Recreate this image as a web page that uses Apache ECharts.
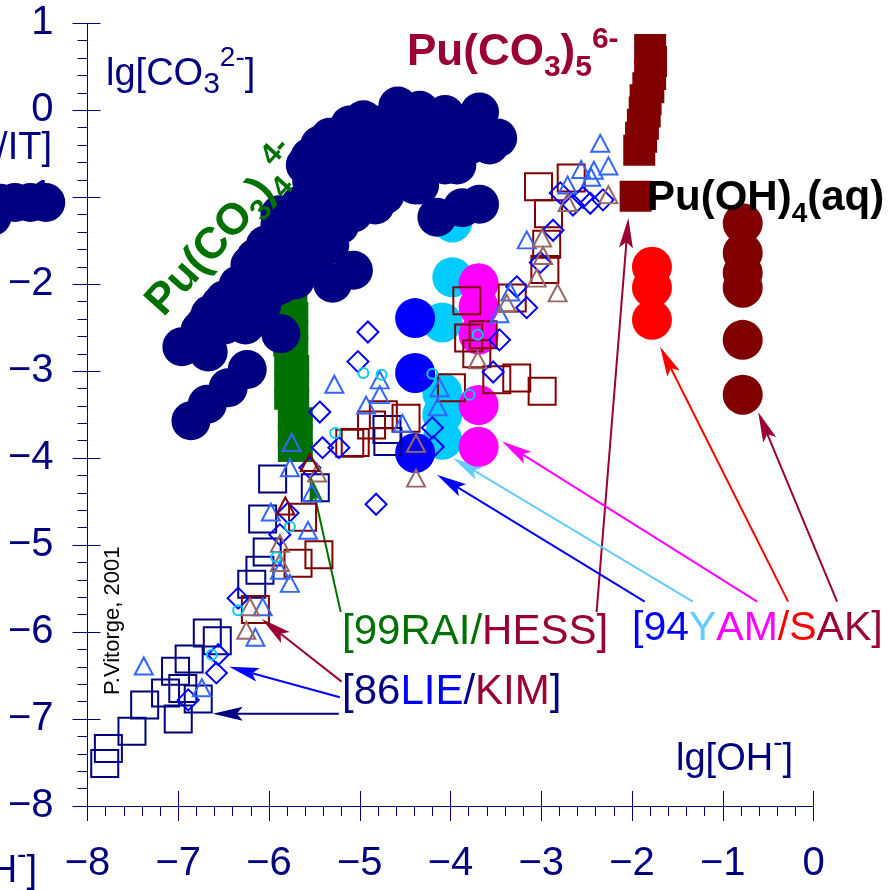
<!DOCTYPE html>
<html>
<head>
<meta charset="utf-8">
<script src="https://cdn.jsdelivr.net/npm/echarts@6/dist/echarts.min.js"></script>
<style>html,body{margin:0;padding:0;background:#fff}#main{width:890px;height:890px}</style>
</head>
<body>
<div id="main"></div>
<script>
// points are [lg[OH-], lg[CO3 2-]]
var co3Circles = [
  [-5.55,-0.54],[-5.33,-0.31],[-4.96,-0.11],[-4.58,0.05],[-4.34,0.00],[-4.06,-0.05],[-3.68,-0.02],[-3.48,-0.32],
  [-5.53,-0.81],[-5.33,-0.63],[-5.00,-0.46],[-4.61,-0.34],[-4.23,-0.34],[-3.90,-0.34],[-3.62,-0.28],
  [-5.88,-1.20],[-5.66,-1.09],[-5.33,-0.97],[-5.00,-0.86],[-4.61,-0.74],[-4.23,-0.63],[-3.93,-0.63],
  [-6.15,-1.70],[-5.93,-1.55],[-5.66,-1.43],[-5.38,-1.32],[-5.07,-1.18],[-4.72,-0.97],[-4.34,-0.86],
  [-6.32,-2.01],[-6.10,-1.89],[-5.82,-1.78],[-5.55,-1.66],[-5.33,-1.55],
  [-6.49,-2.18],[-6.26,-2.18],[-5.99,-2.07],[-5.71,-1.95],
  [-6.65,-2.35],[-6.43,-2.41],[-6.15,-2.30],
  [-6.76,-2.53],[-6.96,-2.72],[-6.67,-2.78],[-6.46,-2.41],
  [-5.07,-1.84],[-5.30,-1.99],
  [-6.24,-2.98],[-6.45,-3.19],[-6.68,-3.38],[-6.86,-3.57],
  [-5.87,-2.57],
  [-4.15,-1.23],[-3.87,-1.12],[-3.68,-1.08],
  [-8.46,-1.06],[-8.63,-1.06],[-8.80,-1.06],[-8.96,-1.07],[-9.05,-1.22],
  [-5.11,-0.17],[-4.83,-0.17],[-4.56,-0.17],[-4.28,-0.17],[-4.01,-0.17],[-3.73,-0.17],
  [-5.44,-0.40],[-5.16,-0.40],[-4.89,-0.40],[-4.61,-0.40],[-4.34,-0.40],[-4.06,-0.40],[-3.79,-0.40],[-3.57,-0.40],
  [-5.60,-0.63],[-5.38,-0.63],[-5.11,-0.63],[-4.83,-0.63],[-4.56,-0.63],[-4.28,-0.63],[-4.06,-0.63],
  [-5.49,-0.86],[-5.22,-0.86],[-4.94,-0.86],[-4.67,-0.86],[-4.39,-0.86],
  [-5.60,-1.09],[-5.33,-1.09],[-5.05,-1.09],[-4.83,-1.09],
  [-5.88,-1.32],[-5.69,-1.32],[-5.44,-1.32],[-5.22,-1.32],
  [-6.04,-1.55],[-5.82,-1.55],[-5.60,-1.55],[-5.38,-1.55],
  [-6.21,-1.78],[-5.99,-1.78],[-5.77,-1.78],[-5.55,-1.78],
  [-6.34,-2.01],[-6.12,-2.01],[-5.88,-2.01],
  [-6.54,-2.24],[-6.32,-2.24],[-6.08,-2.24],
  [-6.71,-2.47],[-6.49,-2.47],[-6.26,-2.47]
];
var pu4Rects = [[-5.77,-1.11],[-5.77,-1.32],[-5.77,-1.51],
  [-5.77,-1.72],[-5.77,-1.92],[-5.77,-2.12],[-5.76,-2.32],[-5.76,-2.53],[-5.76,-2.72],[-5.75,-2.93],
  [-5.75,-3.13],[-5.75,-3.33],[-5.71,-3.53],[-5.71,-3.73],[-5.71,-3.93]];
var pu5Rects = [[-1.80,0.70],[-1.79,0.56],[-1.80,0.41],[-1.82,0.26],[-1.85,0.12],[-1.86,-0.02],
  [-1.88,-0.16],[-1.90,-0.31],[-1.92,-0.46],[-1.96,-0.99]];
var yamBlue = [[-4.39,-2.39],[-4.39,-3.02],[-4.39,-3.94]];
var yamCyan = [[-3.98,-1.29],[-3.98,-1.92],[-4.09,-2.44],[-4.09,-3.25],[-4.09,-3.50],[-4.09,-3.79]];
var yamMagenta = [[-3.69,-1.99],[-3.69,-2.26],[-3.69,-2.58],[-3.69,-3.39],[-3.69,-3.87]];
var sakRed = [[-1.78,-1.80],[-1.78,-2.04],[-1.78,-2.41]];
var sakDark = [[-0.78,-1.30],[-0.78,-1.64],[-0.78,-1.87],[-0.78,-2.04],[-0.78,-2.64],[-0.78,-3.27]];
var lieSquares = [[-7.81,-7.51],[-7.77,-7.34],[-7.51,-7.14],[-7.37,-6.84],[-7.14,-6.70],[-7.03,-6.45],
  [-6.95,-6.65],[-7.00,-7.00],[-6.78,-6.77],[-6.88,-6.31],[-6.68,-6.01],[-6.57,-6.10],[-6.19,-5.45],
  [-6.10,-5.29],[-6.02,-5.08],[-6.07,-4.70],[-5.96,-4.24],[-5.49,-4.34],[-4.69,-3.81],[-4.70,-3.67]];
var hessSquares = [[-3.82,-2.19],[-3.80,-2.62],[-3.64,-2.58],[-3.71,-2.80],[-3.32,-2.16],[-3.99,-3.19],
  [-3.49,-3.10],[-3.27,-3.08],[-2.99,-3.23],[-4.74,-3.50],[-4.87,-3.62],[-4.49,-3.54],[-5.11,-3.83],
  [-5.05,-3.82],[-3.03,-0.88],[-2.67,-0.78],[-2.92,-1.19],[-2.94,-1.54],[-2.96,-1.83],[-5.63,-4.68],
  [-5.45,-5.11],[-5.68,-5.21],[-6.15,-5.74]];
var lieDiamonds = [[-6.34,-5.61],[-6.56,-6.26],[-6.58,-6.47],[-6.89,-6.78],[-5.44,-3.47],[-5.41,-3.88],
  [-5.23,-3.88],[-4.82,-4.53],[-5.79,-4.63],[-5.88,-4.88],[-5.55,-4.11],[-4.91,-2.55],[-5.02,-2.89],
  [-4.20,-3.65],[-4.19,-3.87],[-3.16,-2.27],[-3.46,-2.64],[-3.53,-3.01],[-3.27,-2.03],[-3.01,-1.75],
  [-2.87,-1.38],[-2.79,-0.95],[-2.65,-1.09],[-2.46,-1.07],[-2.32,-1.03],[-2.54,-1.00]];
var triBlue = [[-7.38,-6.39],[-6.74,-6.64],[-6.15,-6.06],[-6.07,-5.71],[-5.77,-5.44],[-5.88,-5.29],
  [-5.28,-3.15],[-4.78,-3.10],[-4.78,-3.27],[-4.93,-3.39],[-5.75,-3.82],[-5.77,-4.11],[-5.98,-4.62],
  [-5.57,-4.83],[-5.53,-4.40],[-4.12,-3.19],[-4.14,-3.41],[-3.34,-2.09],[-3.46,-2.34],[-4.53,-3.60],
  [-2.35,-0.38],[-2.26,-0.64],[-2.42,-0.69],[-2.56,-0.68],[-2.45,-0.77],[-2.71,-0.86],[-3.16,-1.49]];
var triBrown = [[-5.47,-4.17],[-4.38,-3.83],[-4.38,-4.23],[-5.88,-4.98],[-5.88,-5.20],[-6.21,-5.71],
  [-6.25,-5.98],[-3.70,-2.87],[-3.38,-2.22],[-3.05,-1.93],[-2.82,-2.10],[-2.26,-0.97],[-2.71,-1.06],
  [-2.99,-1.47],[-2.98,-1.67]];
var triDark = [[-5.55,-4.05],[-5.82,-4.55]];
var ringCyan = [[-4.96,-3.02],[-4.76,-3.04],[-4.20,-3.03],[-3.79,-3.27],[-3.70,-2.58],[-5.27,-3.71],
  [-5.77,-4.79],[-5.92,-5.14],[-6.34,-5.75],[-6.63,-6.26]];

// annotation arrows: label end -> tip, in axis units
var arrows = [
  [-5.21,-5.77,-5.55,-4.18],
  [-2.39,-5.77,-2.04,-1.24],
  [-1.86,-5.65,-4.15,-4.19],
  [-1.33,-5.65,-3.97,-4.00],
  [-0.62,-5.65,-3.43,-3.81],
  [-0.28,-5.65,-1.69,-2.72],
  [0.26,-5.65,-0.61,-3.47],
  [-5.20,-6.57,-6.08,-5.85],
  [-5.22,-6.75,-6.44,-6.40],
  [-5.23,-6.94,-6.62,-6.94]
];
var arrowColors = ['#007000','#990033','#0000ff','#66ccff','#ff00ff','#ff0000','#990033','#990033','#0000ff','#000080'];

var NAVY = '#000080';
var FONT = '"Liberation Sans", Arial, sans-serif';

var myChart = echarts.init(document.getElementById('main'));

// lay out a line of text pieces (sub/superscripts) along one baseline
var mctx = document.createElement('canvas').getContext('2d');
function run(x0, y0, rot, pieces, alignRight) {
  var cx = 0, kids = [];
  pieces.forEach(function (p) {
    var font = (p.b ? 'bold ' : '') + p.s + 'px ' + FONT;
    mctx.font = font;
    kids.push({
      type: 'text', x: cx, y: (p.dy || 0) - 0.35 * p.s, z: 100,
      style: {text: p.t, font: font, fill: p.c, textAlign: 'left', verticalAlign: 'middle'}
    });
    cx += mctx.measureText(p.t).width;
  });
  return {type: 'group', x: alignRight ? x0 - cx : x0, y: y0, rotation: rot || 0, z: 100, children: kids};
}

function scat(data, symbol, size, fill, stroke, bw) {
  return {
    type: 'scatter', data: data, symbol: symbol, symbolSize: size, clip: false,
    silent: true,
    itemStyle: {color: fill, borderColor: stroke || fill, borderWidth: bw || 0, opacity: 1}
  };
}

function minus(v) { return String(v).replace('-', '\u2212'); }

var DR = '#990033', GR = '#007000';

option = {
  animation: false,
  backgroundColor: '#fff',
  grid: {left: 87.5, right: 76.5, top: 23.3, bottom: 84},
  xAxis: [{
    type: 'value', min: -8, max: 0, interval: 1,
    axisLine: {onZero: false, lineStyle: {color: NAVY, width: 1}},
    axisTick: {length: 15, lineStyle: {color: NAVY}},
    minorTick: {show: true, splitNumber: 5, length: 10, lineStyle: {color: NAVY}},
    splitLine: {show: false},
    axisLabel: {fontSize: 40, color: NAVY, margin: 38, fontFamily: FONT, formatter: minus}
  }, {
    type: 'value', min: -8, max: 0, interval: 1, position: 'bottom',
    axisLine: {show: false, onZero: false},
    axisTick: {inside: true, length: 15, lineStyle: {color: NAVY}},
    splitLine: {show: false}, axisLabel: {show: false}
  }],
  yAxis: [{
    type: 'value', min: -8, max: 1, interval: 1,
    axisLine: {onZero: false, lineStyle: {color: NAVY, width: 1}},
    axisTick: {length: 15, lineStyle: {color: NAVY}},
    minorTick: {show: true, splitNumber: 5, length: 10, lineStyle: {color: NAVY}},
    splitLine: {show: false},
    axisLabel: {fontSize: 40, color: NAVY, margin: 34, fontFamily: FONT, formatter: minus}
  }, {
    type: 'value', min: -8, max: 1, interval: 1, position: 'left',
    axisLine: {show: false, onZero: false},
    axisTick: {inside: true, length: 13, lineStyle: {color: NAVY}},
    splitLine: {show: false}, axisLabel: {show: false}
  }],
  series: [
    scat(yamCyan, 'circle', 40, '#00ccff'),
    scat(yamBlue, 'circle', 40, '#0000ff'),
    scat(yamMagenta, 'circle', 40, '#ff00ff'),
    scat(sakRed, 'circle', 40, '#ff0000'),
    scat(sakDark, 'circle', 40, '#800000'),
    scat(pu4Rects, 'rect', [35, 20], GR),
    scat(co3Circles, 'circle', 39, NAVY),
    scat(pu5Rects, 'rect', [32, 31], '#800000'),
    scat(lieSquares, 'rect', 27, 'transparent', NAVY, 2),
    scat(hessSquares, 'rect', 27, 'transparent', '#800000', 2),
    scat(lieDiamonds, 'diamond', 21, 'transparent', '#0000ff', 2),
    scat(triBlue, 'triangle', [18, 17], 'transparent', '#3366ff', 2),
    scat(triBrown, 'triangle', [18, 17], 'transparent', '#996666', 2),
    scat(triDark, 'triangle', [18, 17], 'transparent', '#800000', 2),
    scat(ringCyan, 'circle', 10, 'transparent', '#00ccff', 2),
    {
      type: 'custom', silent: true,
      data: arrows.map(function (a, i) { return a.concat(i); }),
      renderItem: function (params, api) {
        var p1 = api.coord([api.value(0), api.value(1)]);
        var p2 = api.coord([api.value(2), api.value(3)]);
        var c = arrowColors[api.value(4)];
        var dx = p2[0] - p1[0], dy = p2[1] - p1[1];
        var len = Math.sqrt(dx * dx + dy * dy), ux = dx / len, uy = dy / len;
        var L = 30, W = 7, N = 24;
        var bx = p2[0] - ux * L, by = p2[1] - uy * L;
        var back = [p2[0] - ux * N, p2[1] - uy * N];
        return {
          type: 'group', children: [
            {type: 'line', shape: {x1: p1[0], y1: p1[1], x2: back[0], y2: back[1]}, style: {stroke: c, lineWidth: 2}},
            {type: 'polygon', shape: {points: [p2, [bx - uy * W, by + ux * W], back, [bx + uy * W, by - ux * W]]}, style: {fill: c}}
          ]
        };
      }
    }
  ],
  graphic: [
    run(106, 88, 0, [
      {t: 'lg[CO', s: 38, c: NAVY}, {t: '3', s: 30, c: NAVY, dy: 7}, {t: '2-', s: 28, c: NAVY, dy: -20}, {t: ']', s: 38, c: NAVY}
    ]),
    run(52, 162, 0, [{t: 'lg[Pu/IT]', s: 38, c: NAVY}], true),
    run(37, 885, 0, [{t: 'lg[OH', s: 38, c: NAVY}, {t: '-', s: 28, c: NAVY, dy: -20}, {t: ']', s: 38, c: NAVY}], true),
    run(676, 773, 0, [{t: 'lg[OH', s: 38, c: NAVY}, {t: '-', s: 28, c: NAVY, dy: -20}, {t: ']', s: 38, c: NAVY}]),
    run(407, 68, 0, [
      {t: 'Pu(CO', s: 44, b: 1, c: DR}, {t: '3', s: 30, b: 1, c: DR, dy: 10}, {t: ')', s: 44, b: 1, c: DR},
      {t: '5', s: 30, b: 1, c: DR, dy: 10}, {t: '6-', s: 30, b: 1, c: DR, dy: -18}
    ]),
    run(647, 213, 0, [
      {t: 'Pu(OH)', s: 42, b: 1, c: '#000'}, {t: '4', s: 28, b: 1, c: '#000', dy: 11}, {t: '(aq)', s: 42, b: 1, c: '#000'}
    ]),
    run(166, 320, 48 * Math.PI / 180, [
      {t: 'Pu(CO', s: 44, b: 1, c: GR}, {t: '3', s: 30, b: 1, c: GR, dy: 9}, {t: ')', s: 44, b: 1, c: GR},
      {t: '4', s: 30, b: 1, c: GR, dy: 9}, {t: '4-', s: 30, b: 1, c: GR, dy: -21}
    ]),
    run(342, 647, 0, [{t: '[99RAI/', s: 42, c: GR}, {t: 'HESS]', s: 42, c: DR}]),
    run(632, 643, 0, [
      {t: '[94', s: 41, c: '#0000ff'}, {t: 'Y', s: 41, c: '#66ccff'}, {t: 'AM', s: 41, c: '#ff00ff'},
      {t: '/S', s: 41, c: '#ff0000'}, {t: 'AK]', s: 41, c: DR}
    ]),
    run(342, 707, 0, [
      {t: '[86', s: 42, c: NAVY}, {t: 'LIE', s: 42, c: '#0000ff'}, {t: '/', s: 42, c: NAVY},
      {t: 'KIM', s: 42, c: DR}, {t: ']', s: 42, c: NAVY}
    ]),
    run(121, 695, Math.PI / 2, [{t: 'P.Vitorge, 2001', s: 22, c: '#000'}])
  ]
};
myChart.setOption(option);
</script>
</body>
</html>
